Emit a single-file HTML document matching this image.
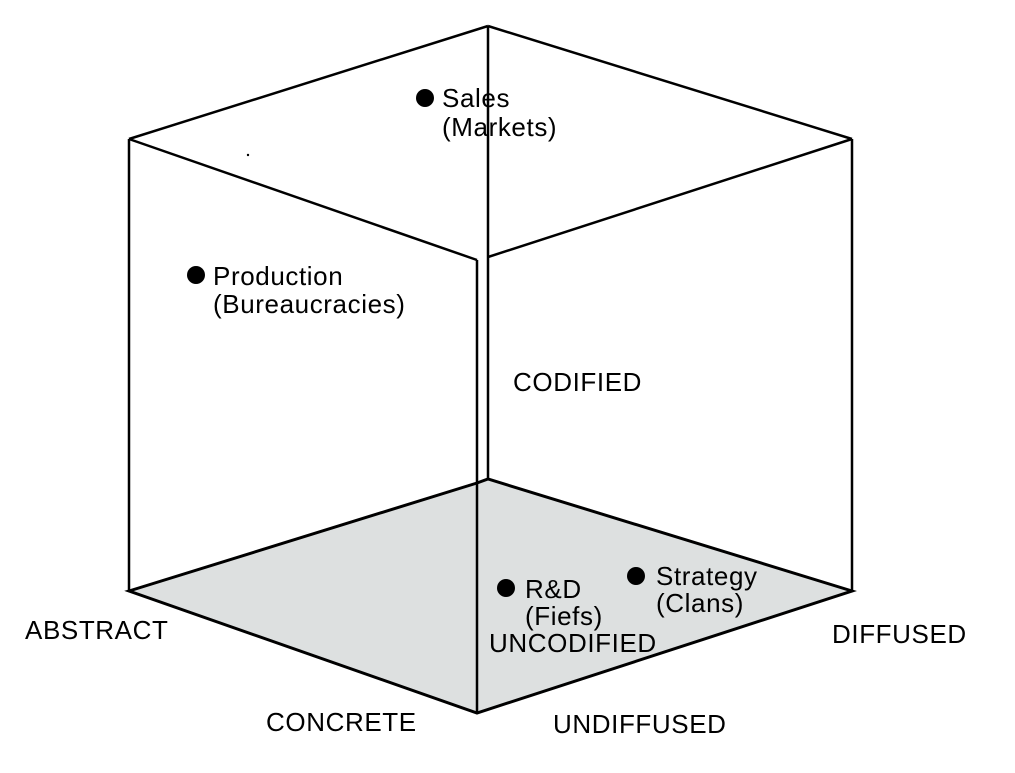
<!DOCTYPE html>
<html><head><style>
body{margin:0;background:#fff;}
svg{display:block;font-family:"Liberation Sans",Arial,sans-serif;}
text{font-size:26px;fill:#000;letter-spacing:0.6px;}
</style></head><body>
<svg width="1015" height="773" viewBox="0 0 1015 773">
<polygon points="129,591 477,483 488,479 852,591 477,713" fill="#dde0e0" stroke="#000" stroke-width="3" stroke-linejoin="miter"/>
<g stroke="#000" stroke-width="2.5" fill="none">
<line x1="488" y1="26" x2="129" y2="139"/>
<line x1="488" y1="26" x2="852" y2="139"/>
<line x1="129" y1="139" x2="477" y2="260"/>
<line x1="852" y1="139" x2="488" y2="257"/>
<line x1="129" y1="139" x2="129" y2="591"/>
<line x1="852" y1="139" x2="852" y2="591"/>
<line x1="488" y1="26" x2="488" y2="479"/>
<line x1="477" y1="260" x2="477" y2="713"/>
</g>
<circle cx="248" cy="155" r="1.2" fill="#000"/>
<circle cx="425" cy="98" r="9" fill="#000"/>
<text x="442" y="107">Sales</text>
<text x="442" y="136">(Markets)</text>
<circle cx="196" cy="275" r="9" fill="#000"/>
<text x="213" y="285">Production</text>
<text x="213" y="313">(Bureaucracies)</text>
<text x="513" y="391">CODIFIED</text>
<circle cx="506" cy="588" r="9" fill="#000"/>
<text x="525" y="598">R&amp;D</text>
<text x="525" y="625">(Fiefs)</text>
<text x="489" y="652">UNCODIFIED</text>
<circle cx="636" cy="576" r="9" fill="#000"/>
<text x="656" y="585">Strategy</text>
<text x="656" y="612">(Clans)</text>
<text x="25" y="639">ABSTRACT</text>
<text x="832" y="643">DIFFUSED</text>
<text x="266" y="731">CONCRETE</text>
<text x="553" y="733">UNDIFFUSED</text>
</svg>
</body></html>
